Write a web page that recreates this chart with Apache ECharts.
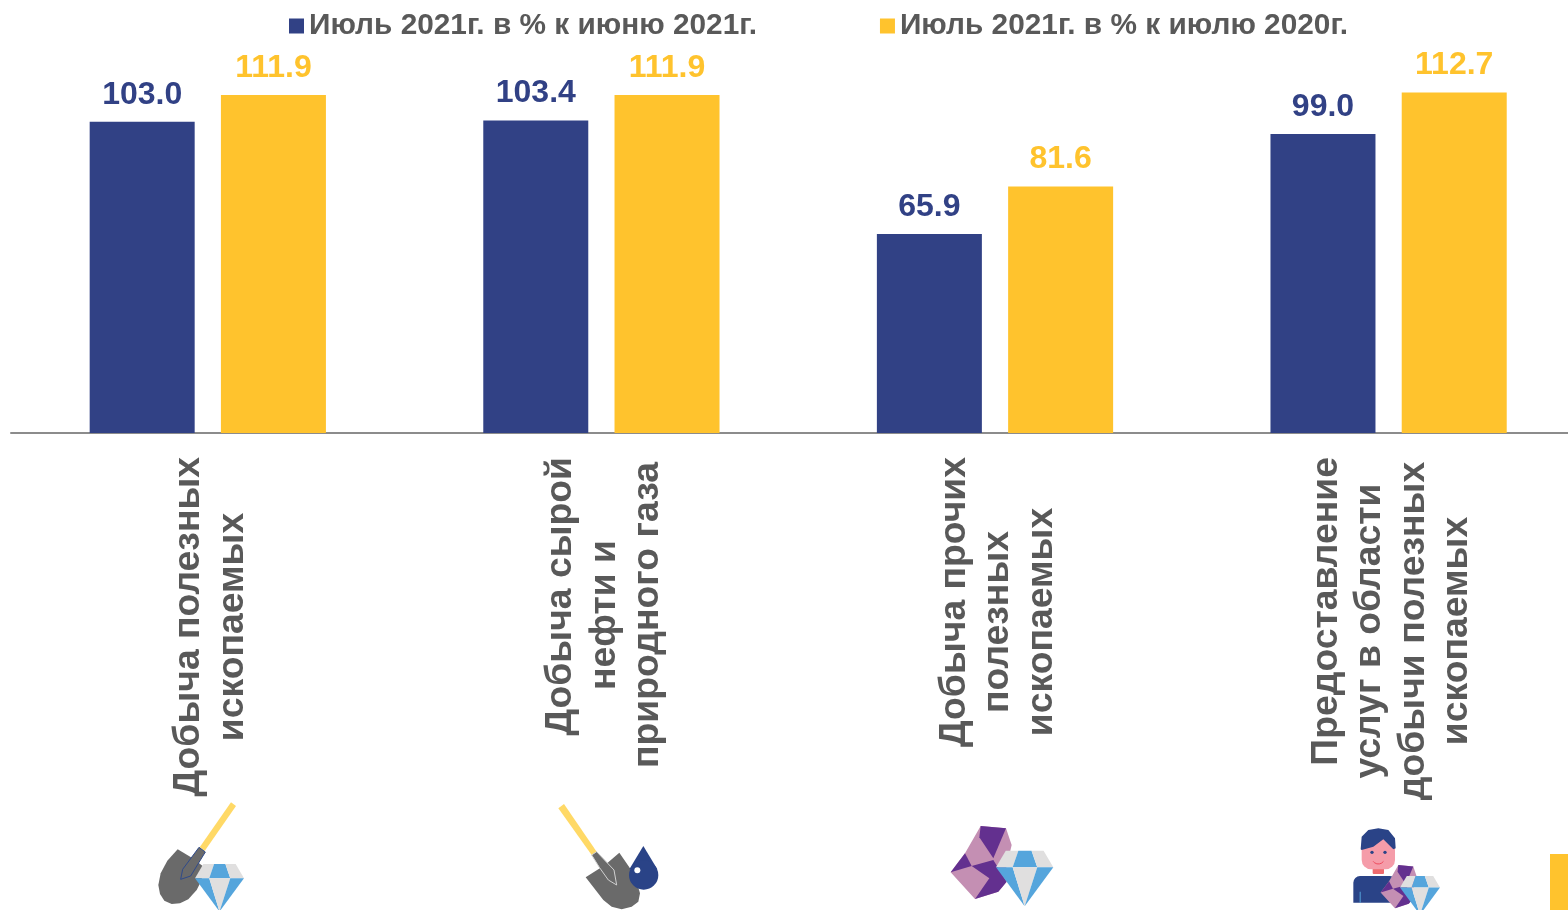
<!DOCTYPE html>
<html>
<head>
<meta charset="utf-8">
<style>
    html, body { margin: 0; padding: 0; background: #fff; }
    #chart { width: 1568px; height: 910px; }
</style>
<script src="https://cdn.jsdelivr.net/npm/echarts@6/dist/echarts.min.js"></script>
</head>
<body>
<div id="chart"></div>
<script>
const categories = [
    'Добыча полезных\nископаемых',
    'Добыча сырой\nнефти и\nприродного газа',
    'Добыча прочих\nполезных\nископаемых',
    'Предоставление\nуслуг в области\nдобычи полезных\nископаемых'
];
const seriesNames = ['Июль 2021г. в % к июню 2021г.', 'Июль 2021г. в % к июлю 2020г.'];
const toJune = [103.0, 103.4, 65.9, 99.0];
const toLastYear = [111.9, 111.9, 81.6, 112.7];

const NAVY = '#314185';
const YELLOW = '#FFC32D';
const FONT = '"Liberation Sans", Arial, sans-serif';

// рисуем значки в координатах увеличенного фрагмента (3x)
function poly(points, fill, stroke) {
    const item = { type: 'polygon', shape: { points: points }, style: { fill: fill } };
    if (stroke) { item.style.stroke = stroke; item.style.lineWidth = 3; }
    return item;
}

function circle(cx, cy, r, fill) {
    return { type: 'circle', shape: { cx: cx, cy: cy, r: r }, style: { fill: fill } };
}

function iconGroup(x, y, children) {
    return { type: 'group', x: x, y: y, scaleX: 1 / 3, scaleY: 1 / 3, silent: true, children: children };
}

function diamond(x, y, scale) {
    const blue = '#55A5DC', grey = '#E0DFDF';
    return {
        type: 'group', x: x, y: y, scaleX: scale, scaleY: scale,
        children: [
            poly([[17, 0], [39, 0], [29, 29], [0, 29]], grey),
            poly([[39, 0], [62, 0], [72, 29], [29, 29]], blue),
            poly([[62, 0], [83, 0], [100, 29], [72, 29]], grey),
            poly([[0, 29], [29, 29], [50, 97]], blue),
            poly([[29, 29], [72, 29], [50, 97]], grey),
            poly([[72, 29], [100, 29], [50, 97]], blue)
        ]
    };
}

function gems(x, y, scale) {
    const dark = '#63308F', pink = '#C48FB3';
    return {
        type: 'group', x: x, y: y, scaleX: scale, scaleY: scale,
        children: [
            poly([[122, 48], [198, 55], [215, 105], [195, 190], [200, 215], [175, 245], [105, 267], [32, 187], [75, 130]], pink),
            poly([[122, 48], [198, 55], [160, 145], [118, 82]], dark),
            poly([[75, 130], [32, 187], [95, 168]], dark),
            poly([[95, 168], [160, 150], [200, 215], [175, 245], [105, 267], [148, 205]], dark)
        ]
    };
}

const shovelDiamond = iconGroup(130, 790, [
    poly([[303, 37], [318, 48], [224, 183], [209, 172]], '#FFD966'),
    poly([[143, 178], [188, 205], [218, 228], [215, 270], [200, 300], [175, 328], [150, 340], [125, 342], [103, 332], [90, 312], [85, 285], [92, 250], [112, 212]], '#6A6A6A'),
    poly([[207, 172], [226, 186], [182, 258], [152, 268], [158, 238]], '#6A6A6A', '#2F4A8A'),
    diamond(195, 222, 1.47)
]);

const shovelDrop = iconGroup(540, 790, [
    poly([[55, 55], [72, 42], [170, 185], [155, 195]], '#FFD966'),
    poly([[238, 188], [270, 235], [290, 275], [300, 310], [295, 335], [275, 350], [245, 358], [215, 350], [190, 330], [137, 262], [195, 225]], '#6A6A6A'),
    poly([[155, 195], [170, 185], [222, 240], [230, 285], [205, 270], [178, 232]], '#6A6A6A', '#D0D0D0'),
    poly([[310, 168], [352, 238], [268, 238]], '#2A4387'),
    circle(311, 255, 44, '#2A4387'),
    circle(292, 241, 9, '#fff')
]);

const gemDiamond = iconGroup(940, 810, [
    gems(0, 0, 1),
    diamond(168, 122, 1.72)
]);

const personGem = iconGroup(1340, 810, [
    { type: 'rect', shape: { x: 40, y: 198, width: 130, height: 80, r: [20, 20, 0, 0] }, style: { fill: '#2A4387' } },
    { type: 'rect', shape: { x: 59, y: 245, width: 3, height: 33 }, style: { fill: '#55A5DC' } },
    { type: 'rect', shape: { x: 98, y: 172, width: 34, height: 20, r: 3 }, style: { fill: '#EE6B6E' } },
    { type: 'rect', shape: { x: 65, y: 80, width: 100, height: 98, r: 28 }, style: { fill: '#F59CA9' } },
    poly([[62, 118], [65, 80], [85, 60], [115, 55], [145, 60], [165, 85], [167, 115], [160, 118], [130, 88], [100, 110], [65, 120]], '#2A4387'),
    circle(96, 127, 5, '#2A4387'),
    circle(135, 127, 5, '#2A4387'),
    { type: 'arc', shape: { cx: 115, cy: 143, r: 19, startAngle: Math.PI * 0.2, endAngle: Math.PI * 0.8, clockwise: true }, style: { fill: 'none', stroke: '#EE4B5E', lineWidth: 3 } },
    gems(103, 137, 0.59),
    diamond(180, 198, 1.2)
]);

// первая строка прижата к верху, остальные центрируются в своей ширине
const labelBase = { lineHeight: 43.5, fontSize: 37.3, fontWeight: 'bold', color: '#595959', fontFamily: FONT };
const labelRich = {
    t: Object.assign({}, labelBase),
    a: Object.assign({ width: 340, align: 'center' }, labelBase),
    b: Object.assign({ width: 316, align: 'center' }, labelBase),
    c: Object.assign({ width: 330, align: 'center' }, labelBase),
    d: Object.assign({ width: 348, align: 'center' }, labelBase)
};

const chart = echarts.init(document.getElementById('chart'));
chart.setOption({
    animation: false,
    backgroundColor: '#fff',
    textStyle: { fontFamily: FONT },
    legend: {
        data: seriesNames,
        left: 284,
        top: 6,
        padding: 5,
        itemWidth: 15,
        itemHeight: 15,
        itemGap: 123,
        icon: 'rect',
        selectedMode: false,
        textStyle: { fontSize: 29.8, fontWeight: 'bold', color: '#595959', fontFamily: FONT }
    },
    grid: { left: 11, top: 10, width: 1574.4, height: 423, outerBoundsMode: 'none' },
    xAxis: {
        type: 'category',
        data: categories,
        axisTick: { show: false },
        axisLine: { lineStyle: { color: '#8C8C8C', width: 2 } },
        axisLabel: {
            interval: 0,
            rotate: 90,
            margin: 24,
            padding: [6, 0, 0, 0],
            formatter: function(value, index) {
                const key = 'abcd'[index];
                return value.split('\n').map(function(line, i) {
                    return '{' + (i === 0 ? 't' : key) + '|' + line + '}';
                }).join('\n');
            },
            rich: labelRich
        }
    },
    yAxis: { type: 'value', min: 0, max: 140, show: false, splitLine: { show: false } },
    series: [
        {
            name: seriesNames[0], type: 'bar', data: toJune, barWidth: 105, barGap: '25%',
            itemStyle: { color: NAVY },
            label: { show: true, position: 'top', distance: 11, fontSize: 32, fontWeight: 'bold', color: NAVY, fontFamily: FONT, formatter: function(p) { return p.value.toFixed(1); } }
        },
        {
            name: seriesNames[1], type: 'bar', data: toLastYear, barWidth: 105,
            itemStyle: { color: YELLOW },
            label: { show: true, position: 'top', distance: 11, fontSize: 32, fontWeight: 'bold', color: YELLOW, fontFamily: FONT, formatter: function(p) { return p.value.toFixed(1); } }
        }
    ],
    graphic: [
        shovelDiamond,
        shovelDrop,
        gemDiamond,
        personGem,
        { type: 'rect', shape: { x: 1550, y: 854, width: 18, height: 56 }, style: { fill: YELLOW }, silent: true }
    ]
});
</script>
</body>
</html>
